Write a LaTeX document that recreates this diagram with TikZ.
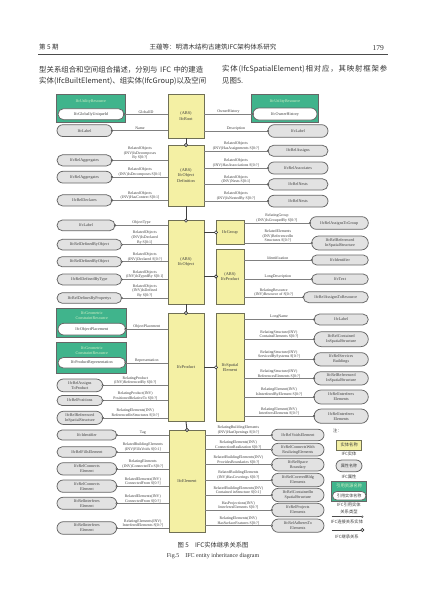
\documentclass[tikz,border=0pt]{standalone}
\usepackage{fontspec}
\setmainfont{Liberation Serif}
\newfontfamily\cjk{Noto Sans CJK SC}
\usetikzlibrary{shapes.misc,arrows.meta}
\definecolor{clsfill}{HTML}{F4F0A4}
\definecolor{clsdraw}{HTML}{707055}
\definecolor{grn}{HTML}{40B48C}
\definecolor{grntext}{HTML}{D6F2C8}
\definecolor{pillfill}{HTML}{E2E2E2}
\definecolor{pilldraw}{HTML}{666666}
\definecolor{linec}{HTML}{808080}
\definecolor{txt}{HTML}{3C3C3C}
\newcommand\bx[7]{\node[#1, minimum width={(#5-#3)*1pt}, minimum height={(#6-#4)*1pt}] (#2) at ({(#3+#5)/2},{(#4+#6)/2}) {#7};}
\newcommand\lrel[3]{\draw[rel] (#2.west |- #1.east) -- (#1.east) node[lab, midway, above]{#3}; \node[dotc] (c-#1) at (#1.east) {};}
\newcommand\rrel[3]{\draw[rel] (#2.east |- #1.west) -- (#1.west) node[lab, midway, above]{#3}; \node[dotc] (c-#1) at (#1.west) {};}
\newcommand\inhv[2]{\draw[inh] (#1.south) -- (#2.north); \node[inhc] (i-#2) at (#2.north) {};}
\newcommand\inhh[2]{\draw[inh] (#1.east |- #2.west) -- (#2.west); \node[inhc] (i-#2) at (#2.west) {};}
\newcommand\hf{\hskip0pt plus 1fil\relax}
\begin{document}
\begin{tikzpicture}[x=1pt,y=-1pt,
  cls/.style={draw=clsdraw, fill=clsfill, line width=0.55pt, align=center, inner sep=0pt, outer sep=0pt, text=txt, font=\fontsize{4.3}{5.2}\selectfont},
  pill/.style={rounded rectangle, draw=pilldraw, fill=pillfill, line width=0.75pt, align=center, inner sep=0pt, outer sep=0pt, text=txt, font=\fontsize{4.1}{4.9}\selectfont},
  wpill/.style={pill, fill=white},
  grp/.style={draw=black!60, fill=grn, line width=0.6pt, inner sep=0pt, outer sep=0pt},
  gtitle/.style={text=grntext, font=\fontsize{4.1}{5}\selectfont, align=center, inner sep=0pt},
  lab/.style={font=\fontsize{3.9}{4.6}\selectfont, align=center, inner sep=0.5pt, text=txt},
  rel/.style={draw=linec, line width=0.5pt},
  dotc/.style={circle, draw=black!75, fill=white, line width=0.4pt, minimum size=1.8pt, inner sep=0pt},
  inh/.style={draw=black!75, line width=0.9pt},
  inhc/.style={circle, draw=black!80, fill=white, line width=0.6pt, minimum size=3.2pt, inner sep=0pt},
  hz/.style={font=\cjk\fontsize{6.5}{7}\selectfont, inner sep=0pt, text=black!80},
  para/.style={font=\cjk\fontsize{7.4}{9}\selectfont, inner sep=0pt, anchor=west, text=black!80},
  leg/.style={font=\cjk\fontsize{4.3}{6.6}\selectfont, inner sep=0pt, text=txt, align=center}]
\useasboundingbox[fill=white] (0,0) rectangle (427,603);

% ---------- page header ----------
\node[hz, anchor=west] (h1) at (39,47.5) {第 5 期};
\node[hz] (h2) at (213,47.5) {王蕴等：明清木结构古建筑IFC架构体系研究};
\node[font=\fontsize{7.5}{8}\selectfont, inner sep=0pt, anchor=east, text=black!80] (h3) at (384,48) {179};
\draw[line width=0.6pt, black!70] (38,54.3) -- (388,54.3);
\node[para] (p1) at (39,69.5) {\hbox to 164pt{型关系组合和空间组合描述，分别与\hf IFC\hf 中的建造}};
\node[para] (p2) at (39,81.2) {\hbox to 164pt{实体(IfcBuiltElement)\hf 、组实体(IfcGroup)\hf 以及空间}};
\node[para] (p3) at (222,69.5) {\hbox to 165pt{实\hf 体\hf (IfcSpatialElement)\hf 相\hf 对\hf 应\hf ，\hf 其\hf 映\hf 射\hf 框\hf 架\hf 参}};
\node[para] (p4) at (222,81.2) {见图5.};

% ---------- class boxes ----------
\bx{cls}{root}{168}{94}{204}{138}{(ABS)\\IfcRoot}
\bx{cls}{objdef}{168}{145}{204}{206}{(ABS)\\IfcObject\\Definition}
\bx{cls}{obj}{168}{220.7}{204}{304}{(ABS)\\IfcObject}
\bx{cls}{group}{216}{220.7}{244}{244}{IfcGroup}
\bx{cls}{prodabs}{216}{249}{244}{304}{(ABS)\\IfcProduct}
\bx{cls}{prod}{168}{313}{204}{421.7}{IfcProduct}
\bx{cls}{spatial}{216}{313}{244}{421.7}{IfcSpatial\\Element}
\bx{cls}{elem}{169}{430}{205}{532}{IfcElement}

\inhv{root}{objdef}
\inhv{objdef}{obj}
\inhh{obj}{group}
\inhh{obj}{prodabs}
\inhv{obj}{prod}
\inhh{prod}{spatial}
\inhv{prod}{elem}

% ---------- green resource boxes ----------
\bx{grp}{ur1}{56.7}{94}{125}{122}{}
\node[gtitle] (ur1t) at (90.8,101) {IfcUtilityResource};
\bx{wpill}{gid}{58}{108.7}{124}{119.7}{IfcGloballyUniqueId}
\bx{grp}{ur2}{251.7}{94}{318.3}{122}{}
\node[gtitle] (ur2t) at (285,101) {IfcUtilityResource};
\bx{wpill}{oh}{253}{108}{317}{120}{IfcOwnerHistory}
\bx{grp}{gc1}{56.7}{308}{126.7}{337.7}{}
\node[gtitle] (gc1t) at (91.7,315.5) {IfcGeometric\\ConstraintResource};
\bx{wpill}{op}{58}{323.3}{125.5}{335}{IfcObjectPlacement}
\bx{grp}{gc2}{56.7}{342.3}{126.7}{373.3}{}
\node[gtitle] (gc2t) at (91.7,350.3) {IfcGeometric\\ConstraintResource};
\bx{wpill}{pr}{58}{357.5}{125.5}{368}{IfcProductRepresentation}

% ---------- left pills ----------
\bx{pill}{lab1}{57}{124.7}{112}{136.5}{IfcLabel}
\bx{pill}{agg1}{57}{154.7}{112}{166}{IfcRelAggregates}
\bx{pill}{agg2}{57}{171.3}{112}{183}{IfcRelAggregates}
\bx{pill}{decl}{57}{194.7}{112}{206}{IfcRelDeclares}
\bx{pill}{lab2}{57}{220}{115}{230.7}{IfcLabel}
\bx{pill}{dbo1}{57}{239.3}{121.7}{250}{IfcRelDefinedByObject}
\bx{pill}{dbo2}{57}{256.7}{121.7}{266.7}{IfcRelDefinedByObject}
\bx{pill}{dbt}{57}{274}{121.7}{285}{IfcRelDefinedByType}
\bx{pill}{dbp}{57}{292.7}{121.7}{303.3}{IfcRelDefinesByPropertys}
\bx{pill}{atp}{57}{379}{102.7}{391.7}{IfcRelAssigns\\ToProduct}
\bx{pill}{pos}{57}{395.5}{102.7}{405.5}{IfcRelPositions}
\bx{pill}{rss}{57}{411.2}{102.7}{424.5}{IfcRelReferenced\\InSpatialStructure}
\bx{pill}{ident}{57}{430}{116.7}{440}{IfcIdentifier}
\bx{pill}{fills}{57}{446.7}{116.7}{457.3}{IfcRelFillsElement}
\bx{pill}{ce1}{57}{462.7}{116.7}{475}{IfcRelConnects\\Element}
\bx{pill}{ce2}{57}{480}{116.7}{492.3}{IfcRelConnects\\Element}
\bx{pill}{ie1}{57}{497.3}{116.7}{509.3}{IfcRelInterferes\\Element}
\bx{pill}{ie2}{57}{521.7}{116.7}{534.3}{IfcRelInterferes\\Element}

% ---------- right pills ----------
\bx{pill}{lab3}{268}{124.7}{328}{137.3}{IfcLabel}
\bx{pill}{ras}{268}{145.3}{328}{156.3}{IfcRelAssigns}
\bx{pill}{rasc}{268}{162}{328}{174}{IfcRelAssociates}
\bx{pill}{nest1}{268}{178.7}{328}{190}{IfcRelNests}
\bx{pill}{nest2}{268}{195.3}{328}{207}{IfcRelNests}
\bx{pill}{rag}{310}{216.7}{368.3}{229.3}{IfcRelAssignsToGroup}
\bx{pill}{rris}{311.7}{236}{368.3}{250}{IfcRelReferenced\\InSpatialStructure}
\bx{pill}{idf}{311.7}{255}{368.3}{265}{IfcIdentifier}
\bx{pill}{txtp}{311.7}{274}{368.3}{284.3}{IfcText}
\bx{pill}{rar}{303.3}{291.7}{368.3}{302.7}{IfcRelAssignsToResource}
\bx{pill}{lab4}{314}{314}{368.3}{325}{IfcLabel}
\bx{pill}{rcs}{314}{331.7}{368.3}{346.7}{IfcRelContained\\InSpatialStructure}
\bx{pill}{rsb}{314}{352.7}{368.3}{366}{IfcRelServices\\Buildings}
\bx{pill}{rrs2}{314}{371.7}{368.3}{385}{IfcRelReferenced\\InSpatialStructure}
\bx{pill}{rie1}{314}{390}{368.3}{404}{IfcRelInterferes\\Elements}
\bx{pill}{rie2}{314}{409}{368.3}{423.3}{IfcRelInterferes\\Elements}
\bx{pill}{rve}{271.7}{429.3}{324}{440.7}{IfcRelVoidsElement}
\bx{pill}{rcwr}{271.7}{443.3}{324}{456}{IfcRelConnectsWith\\RealizingElements}
\bx{pill}{rsbd}{271.7}{458.3}{324}{471}{IfcRelSpace\\Boundary}
\bx{pill}{rcbe}{271.7}{473.3}{324}{486.7}{IfcRelCoveredBldg\\Elements}
\bx{pill}{rcis}{271.7}{488.3}{324}{501.7}{IfcRelContainedIn\\SpatialStructure}
\bx{pill}{rpe}{271.7}{503.3}{324}{516.7}{IfcRelProjects\\Elements}
\bx{pill}{rate}{271.7}{519}{324}{532.3}{IfcRelAdheresTo\\Elements}

% ---------- relationships ----------
\lrel{gid}{root}{GlobalID}
\lrel{lab1}{root}{Name}
\rrel{oh}{root}{OwnerHistory}
\rrel{lab3}{root}{Description}
\lrel{agg1}{objdef}{RelatedObjects\\(INV)IsDecomposes\\By S[0:?]}
\lrel{agg2}{objdef}{RelatedObjects\\(INV)IsDecomposes S[0:1]}
\lrel{decl}{objdef}{RelatedObjects\\(INV)HasContext S[0:1]}
\rrel{ras}{objdef}{RelatedObjects\\(INV)HasAssignments S[0:?]}
\rrel{rasc}{objdef}{RelatedObjects\\(INV)HasAssociations S[0:?]}
\rrel{nest1}{objdef}{RelatedObjects\\(INV)Nests S[0:1]}
\rrel{nest2}{objdef}{RelatedObjects\\(INV)IsNestedBy S[0:?]}
\lrel{lab2}{obj}{ObjectType}
\lrel{dbo1}{obj}{RelatedObjects\\(INV)IsDeclared\\By S[0:1]}
\lrel{dbo2}{obj}{RelatedObjects\\(INV)Declared S[0:?]}
\lrel{dbt}{obj}{RelatedObjects\\(INV)IsTypedBy S[0:1]}
\lrel{dbp}{obj}{RelatedObjects\\(INV)IsDefined\\By S[0:?]}
\rrel{rag}{group}{RelatingGroup\\(INV)IsGroupedBy S[0:?]}
\rrel{rris}{group}{RelatedElements\\(INV)ReferencedIn\\Structures S[0:?]}
\rrel{idf}{prodabs}{Identification}
\rrel{txtp}{prodabs}{LongDescription}
\rrel{rar}{prodabs}{RelatingResource\\(INV)Resource of S[0:?]}
\lrel{op}{prod}{ObjectPlacement}
\lrel{pr}{prod}{Representation}
\lrel{atp}{prod}{RelatingProduct\\(INV)ReferencedBy S[0:?]}
\lrel{pos}{prod}{RelatingProduct(INV)\\PositionedRelativeTo S[0:?]}
\lrel{rss}{prod}{RelatingElements(INV)\\ReferencedInStructures S[0:?]}
\rrel{lab4}{spatial}{LongName}
\rrel{rcs}{spatial}{RelatingStructure(INV)\\ContainsElements S[0:?]}
\rrel{rsb}{spatial}{RelatingStructure(INV)\\ServicedBySystems S[0:?]}
\rrel{rrs2}{spatial}{RelatingStructure(INV)\\ReferencesElements S[0:?]}
\rrel{rie1}{spatial}{RelatingElement(INV)\\IsInterferedByElement S[0:?]}
\rrel{rie2}{spatial}{RelatingElement(INV)\\InterferesElements S[0:?]}
\lrel{ident}{elem}{Tag}
\lrel{fills}{elem}{RelatedBuildingElements\\(INV)FillsVoids S[0:1]}
\lrel{ce1}{elem}{RelatingElements\\(INV)ConnectedTo S[0:?]}
\lrel{ce2}{elem}{RelatedElements(INV)\\ConnectedFrom S[0:?]}
\lrel{ie1}{elem}{RelatedElements(INV)\\ConnectedFrom S[0:?]}
\lrel{ie2}{elem}{RelatingElements(INV)\\InterferedElements S[0:?]}
\rrel{rve}{elem}{RelatingBuildingElements\\(INV)HasOpenings S[0:?]}
\rrel{rcwr}{elem}{RelatingElements(INV)\\ConnectionRealization S[0:?]}
\rrel{rsbd}{elem}{RelatedBuildingElements(INV)\\ProvidesBoundaries S[0:?]}
\rrel{rcbe}{elem}{RelatedBuildingElements\\(INV)HasCoverings S[0:?]}
\rrel{rcis}{elem}{RelatedBuildingElements(INV)\\Contained inStructure S[0:1]}
\rrel{rpe}{elem}{HasProjections(INV)\\InterferesElements S[0:?]}
\rrel{rate}{elem}{RelatingElements(INV)\\HasSurfaceFeatures S[0:?]}

% ---------- legend ----------
\node[leg, anchor=west] (note) at (333,431) {注：};
\bx{cls}{lgcls}{336.7}{440}{361.7}{450}{\cjk 实体名称}
\node[leg] (lgt1) at (349,454) {IFC实体};
\bx{pill}{lgpill}{336}{460}{362}{471.7}{\cjk 属性名称}
\node[leg] (lgt2) at (349,477) {IFC属性};
\bx{grp}{lggrp}{331.7}{481.7}{366.7}{501}{}
\node[gtitle, font=\cjk\fontsize{4.3}{5}\selectfont] (lgt3) at (349.2,486.2) {引用资源名称};
\bx{wpill}{lgw}{332.5}{491.5}{366}{500}{\cjk 引用实体名称}
\node[leg] (lgt4) at (349,508.5) {IFC引用实体\\关系类型};
\coordinate (lga) at (331.7,516.7);
\coordinate (lgb) at (362.3,516.7);
\draw[rel, draw=black!70] (lga) -- (lgb);
\node[dotc] (lgdot) at (lgb) {};
\node[leg] (lgt5) at (347,522) {IFC连接关系实体};
\coordinate (lgc) at (331.7,530);
\coordinate (lgd) at (362.3,530);
\draw[inh] (lgc) -- (lgd);
\node[inhc] (lgcirc) at (lgd) {};
\node[leg] (lgt6) at (347,537) {IFC继承关系};

% ---------- caption ----------
\node[font=\cjk\fontsize{6.3}{7}\selectfont, inner sep=0pt, text=black!80] (cap1) at (213,545) {图 5\quad IFC实体继承关系图};
\node[font=\fontsize{6}{7}\selectfont, inner sep=0pt, text=black!80] (cap2) at (213,556.5) {Fig.5\quad IFC entity inheritance diagram};
\end{tikzpicture}
\end{document}
